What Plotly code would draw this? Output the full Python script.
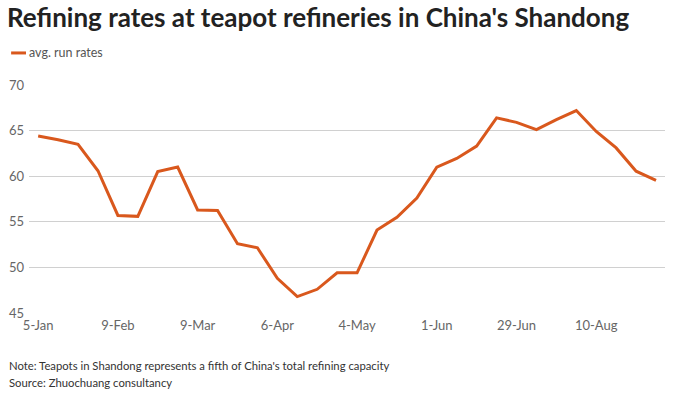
import plotly.graph_objects as go

dates = ["5-Jan", "12-Jan", "19-Jan", "26-Jan", "9-Feb", "16-Feb", "23-Feb", "2-Mar",
         "9-Mar", "16-Mar", "23-Mar", "30-Mar", "6-Apr", "13-Apr", "20-Apr", "27-Apr",
         "4-May", "11-May", "18-May", "25-May", "1-Jun", "8-Jun", "15-Jun", "22-Jun",
         "29-Jun", "6-Jul", "20-Jul", "27-Jul", "10-Aug", "17-Aug", "24-Aug", "31-Aug"]
run_rates = [64.4, 64.0, 63.5, 60.6, 55.7, 55.6, 60.5, 61.0,
             56.3, 56.25, 52.6, 52.15, 48.8, 46.8, 47.6, 49.4,
             49.4, 54.1, 55.5, 57.6, 61.0, 61.95, 63.3, 66.4,
             65.9, 65.1, 66.2, 67.2, 64.9, 63.1, 60.55, 59.55]
tick_labels = ["5-Jan", "9-Feb", "9-Mar", "6-Apr", "4-May", "1-Jun", "29-Jun", "10-Aug"]
y_ticks = [45, 50, 55, 60, 65, 70]

W, H = 674, 397
L, R, T, B = 25, 665, 85, 312.7
def px(x):
    return (x - L) / (R - L)
def py(y):
    return (B - y) / (B - T)

FONT = "Source Sans Pro, Lato, sans-serif"
LINE = "#d9581d"

fig = go.Figure()
fig.add_trace(go.Scatter(
    x=dates, y=run_rates, mode="lines", name="avg. run rates",
    line=dict(color=LINE, width=3), showlegend=False, hoverinfo="skip",
))

fig.update_layout(
    width=W, height=H,
    margin=dict(l=L, r=W - R, t=T, b=H - B),
    paper_bgcolor="white", plot_bgcolor="white",
    font=dict(family=FONT, color="#666666", size=13),
    title=dict(text="<b>Refining rates at teapot refineries in China's Shandong</b>",
               x=7 / W, xanchor="left", y=1 - 18 / H, yanchor="middle",
               font=dict(family=FONT, size=26, color="#222222")),
    xaxis=dict(type="category", range=[-0.46, len(dates) - 0.55],
               tickmode="array", tickvals=tick_labels, ticktext=tick_labels,
               showgrid=False, showline=False, ticks="", ticklabelstandoff=3,
               tickfont=dict(size=13, color="#666666")),
    yaxis=dict(range=[45, 70], tickvals=y_ticks, showgrid=True,
               gridcolor="#d0d0d0", gridwidth=1, zeroline=False,
               ticks="", ticklabelstandoff=4,
               tickfont=dict(size=13, color="#666666")),
)

fig.add_shape(type="line", xref="paper", yref="paper",
              x0=px(7), x1=px(22), y0=py(53), y1=py(53),
              line=dict(color=LINE, width=3))
fig.add_annotation(xref="paper", yref="paper", x=px(23), y=py(53),
                   xanchor="left", yanchor="middle", showarrow=False,
                   text="avg. run rates", font=dict(size=12.5, color="#555555"))
fig.add_annotation(xref="paper", yref="paper", x=px(3), y=py(365),
                   xanchor="left", yanchor="middle", showarrow=False,
                   text="Note: Teapots in Shandong represents a fifth of China's total refining capacity",
                   font=dict(size=11.3, color="#333333"))
fig.add_annotation(xref="paper", yref="paper", x=px(3), y=py(382),
                   xanchor="left", yanchor="middle", showarrow=False,
                   text="Source: Zhuochuang consultancy",
                   font=dict(size=11.3, color="#333333"))

fig.write_html("out.html", config={"displayModeBar": False},
               post_script="document.body.style.margin='0';")
